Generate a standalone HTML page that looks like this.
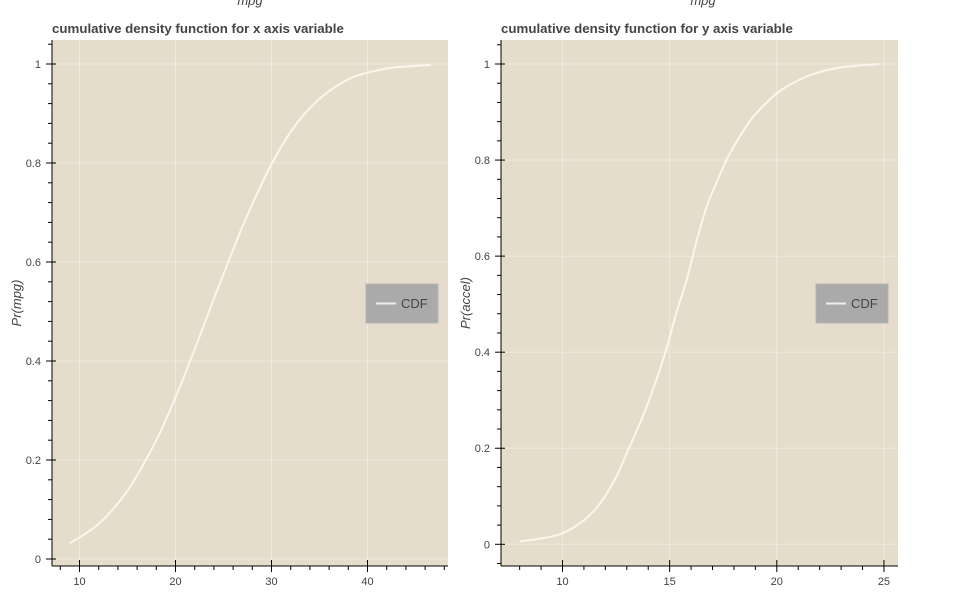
<!DOCTYPE html>
<html><head><meta charset="utf-8"><style>
body{margin:0;background:#fff;width:954px;height:587px;overflow:hidden;font-family:"Liberation Sans",sans-serif}
svg text{font-family:"Liberation Sans",sans-serif}
</style></head><body>
<svg id="chart" width="954" height="587"></svg>
<script>
// Left chart data (mpg)
const mpgX=[9,12,15,18,20,21,22.5,24,25.5,27,28.5,30,31.5,33,34.5,36,37.5,39,42,44,46.6];
const mpgY=[0.032,0.071,0.138,0.240,0.327,0.374,0.449,0.526,0.600,0.673,0.738,0.798,0.848,0.889,0.921,0.945,0.964,0.977,0.991,0.995,0.998];
const mpgXTicks=[10,20,30,40];
const yTicks=[0,0.2,0.4,0.6,0.8,1];
// Right chart data (accel)
const accX=[8,9,10,11,11.75,12.5,13,13.5,13.93,14.4,14.86,15.3,15.79,16.25,16.73,17.3,17.81,18.4,18.9,20,21,21.84,23,24.8];
const accY=[0.006,0.012,0.023,0.05,0.085,0.14,0.19,0.24,0.287,0.345,0.408,0.48,0.55,0.63,0.703,0.765,0.814,0.858,0.89,0.939,0.966,0.981,0.993,1.0];
const accXTicks=[10,15,20,25];

const NS='http://www.w3.org/2000/svg';
const svg=document.getElementById('chart');
function mk(tag,attrs,parent){const e=document.createElementNS(NS,tag);for(const k in attrs)e.setAttribute(k,attrs[k]);(parent||svg).appendChild(e);return e;}
function smooth(pts){
  let d='M'+pts[0][0].toFixed(1)+','+pts[0][1].toFixed(1);
  for(let i=0;i<pts.length-1;i++){
    const p0=pts[Math.max(i-1,0)],p1=pts[i],p2=pts[i+1],p3=pts[Math.min(i+2,pts.length-1)];
    const c1x=p1[0]+(p2[0]-p0[0])/6,c1y=p1[1]+(p2[1]-p0[1])/6;
    const c2x=p2[0]-(p3[0]-p1[0])/6,c2y=p2[1]-(p3[1]-p1[1])/6;
    d+=`C${c1x.toFixed(1)},${c1y.toFixed(1)} ${c2x.toFixed(1)},${c2y.toFixed(1)} ${p2[0].toFixed(1)},${p2[1].toFixed(1)}`;
  }
  return d;
}

function panel(o){
  const g=mk('g',{});
  
  
  const sx=v=>o.x0px+(v-o.x0v)*o.kx;
  const sy=v=>o.y0px-v*o.ky;
  const bg=mk('rect',{x:o.L,y:40,width:o.R-o.L,height:526,fill:'#e6dccb'},g);
  
  
  o.xt.forEach(v=>mk('line',{x1:sx(v),x2:sx(v),y1:40,y2:566,stroke:'#efe9df','stroke-width':1},g));
  yTicks.forEach(v=>mk('line',{x1:o.L,x2:o.R,y1:sy(v),y2:sy(v),stroke:'#efe9df','stroke-width':1},g));
  mk('line',{x1:o.L,x2:o.R,y1:566,y2:566,stroke:'#000','stroke-width':1},g);
  mk('line',{x1:o.L,x2:o.L,y1:40,y2:566,stroke:'#000','stroke-width':1},g);
  for(let v=o.minorStart;v<=o.minorEnd+1e-9;v+=o.minorStep){
    const major=o.xt.some(t=>Math.abs(t-v)<1e-9);
    mk('line',{x1:sx(v),x2:sx(v),y1:major?560:566,y2:major?572:570,stroke:'#000'},g);
  }
  o.xt.forEach(v=>{const t=mk('text',{x:sx(v),y:585,'text-anchor':'middle','font-size':11,fill:'#444'},g);t.textContent=v;
    });
  for(let i=-1;i<=27;i++){const v=i*0.04;const y=sy(v);if(y<40||y>566)continue;
    const major=i%5===0;
    mk('line',{x1:major?o.L-6:o.L-4,x2:major?o.L+4:o.L,y1:y,y2:y,stroke:'#000'},g);}
  yTicks.forEach(v=>{const t=mk('text',{x:o.L-11,y:sy(v)+4,'text-anchor':'end','font-size':11,fill:'#444'},g);t.textContent=String(v);
    });
  const pts=o.xs.map((v,i)=>[sx(v),sy(o.ys[i])]);
  const p=mk('path',{d:smooth(pts),fill:'none',stroke:'#fbf6ec','stroke-width':2,'stroke-linejoin':'round'},g);
  
  
  const ti=mk('text',{x:o.L,y:33,'font-size':13.3,'font-weight':'bold',fill:'#444'},g);ti.textContent=o.title;
  
  const top=mk('text',{x:o.topX,y:5,'text-anchor':'middle','font-size':13,'font-style':'italic',fill:'#444'},g);top.textContent='mpg';
  
  const yl=mk('text',{x:0,y:0,transform:`translate(${o.L-31},303) rotate(-90)`,'text-anchor':'middle','font-size':13,'font-style':'italic',fill:'#444'},g);yl.textContent=o.ylabel;
  
  const lg=mk('g',{},g);
  mk('rect',{x:o.legX,y:284,width:72,height:39,fill:'#aaaaaa',stroke:'#b5b5b5'},lg);
  mk('line',{x1:o.legX+10,x2:o.legX+30,y1:303.5,y2:303.5,stroke:'#eee','stroke-width':2},lg);
  const lt=mk('text',{x:o.legX+35,y:308,'font-size':13,fill:'#444'},lg);lt.textContent='CDF';
  
}
panel({name:'mpg-cdf-panel',L:52,R:448,x0px:79.5,x0v:10,kx:9.6,y0px:559,ky:495,xt:mpgXTicks,xs:mpgX,ys:mpgY,
  minorStart:8,minorEnd:48,minorStep:2,title:'cumulative density function for x axis variable',ylabel:'Pr(mpg)',legX:366,topX:250});
panel({name:'accel-cdf-panel',L:501,R:898,x0px:562.5,x0v:10,kx:21.43,y0px:544.3,ky:480.3,xt:accXTicks,xs:accX,ys:accY,
  minorStart:8,minorEnd:25,minorStep:1,title:'cumulative density function for y axis variable',ylabel:'Pr(accel)',legX:816,topX:703});
</script>
</body></html>
